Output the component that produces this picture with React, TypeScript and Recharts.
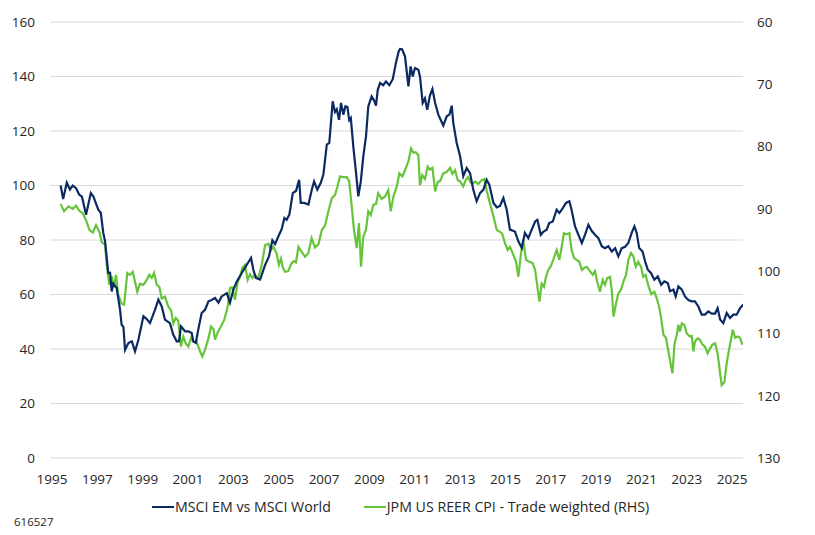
import { CartesianGrid, Line, LineChart, XAxis, YAxis } from "recharts";

// MSCI EM vs MSCI World (LHS)
const emYears = [
  1995.38, 1995.49, 1995.65, 1995.79, 1995.91, 1996.06, 1996.2, 1996.32, 1996.5, 1996.71,
  1996.82, 1997.04, 1997.15, 1997.26, 1997.34, 1997.48, 1997.56, 1997.63, 1997.7, 1997.85,
  1998.0, 1998.07, 1998.15, 1998.22, 1998.37, 1998.52, 1998.66, 1998.81, 1999.03, 1999.18,
  1999.32, 1999.54, 1999.69, 1999.84, 1999.98, 2000.2, 2000.35, 2000.5, 2000.6, 2000.69,
  2000.87, 2001.01, 2001.16, 2001.23, 2001.34, 2001.45, 2001.6, 2001.75, 2001.9, 2002.04,
  2002.19, 2002.34, 2002.48, 2002.71, 2002.85, 2003.0, 2003.15, 2003.37, 2003.59, 2003.78,
  2003.88, 2003.99, 2004.18, 2004.4, 2004.57, 2004.72, 2004.84, 2004.98, 2005.13, 2005.25,
  2005.35, 2005.47, 2005.62, 2005.76, 2005.9, 2005.97, 2006.12, 2006.31, 2006.46, 2006.56,
  2006.7, 2006.85, 2006.97, 2007.12, 2007.23, 2007.38, 2007.48, 2007.56, 2007.66, 2007.75,
  2007.85, 2007.94, 2008.03, 2008.11, 2008.18, 2008.29, 2008.41, 2008.51, 2008.62, 2008.73,
  2008.85, 2008.95, 2009.1, 2009.22, 2009.29, 2009.37, 2009.47, 2009.61, 2009.73, 2009.88,
  2010.03, 2010.17, 2010.29, 2010.35, 2010.44, 2010.57, 2010.72, 2010.82, 2010.91, 2011.01,
  2011.16, 2011.23, 2011.35, 2011.45, 2011.55, 2011.67, 2011.78, 2011.9, 2012.04, 2012.26,
  2012.41, 2012.53, 2012.63, 2012.7, 2012.85, 2013.0, 2013.14, 2013.29, 2013.44, 2013.58,
  2013.73, 2013.88, 2014.03, 2014.17, 2014.29, 2014.47, 2014.62, 2014.76, 2014.91, 2015.06,
  2015.2, 2015.42, 2015.57, 2015.72, 2015.86, 2016.01, 2016.16, 2016.31, 2016.41, 2016.56,
  2016.67, 2016.82, 2016.93, 2017.09, 2017.26, 2017.38, 2017.53, 2017.67, 2017.82, 2017.92,
  2018.07, 2018.22, 2018.37, 2018.51, 2018.66, 2018.81, 2018.95, 2019.1, 2019.25, 2019.39,
  2019.54, 2019.69, 2019.84, 2019.98, 2020.13, 2020.28, 2020.42, 2020.57, 2020.69, 2020.79,
  2020.9, 2021.05, 2021.16, 2021.28, 2021.42, 2021.57, 2021.72, 2021.87, 2022.01, 2022.16,
  2022.26, 2022.41, 2022.51, 2022.63, 2022.78, 2022.92, 2023.07, 2023.22, 2023.36, 2023.51,
  2023.66, 2023.8, 2023.95, 2024.1, 2024.25, 2024.36, 2024.47, 2024.61, 2024.76, 2024.91,
  2025.05, 2025.2, 2025.35, 2025.49,
];
const emValues = [
  100, 95, 101, 98.5, 100, 99, 96.6, 95.9, 89.3, 97.2,
  96, 91.1, 90, 82.6, 79.5, 67.9, 68, 61.1, 64, 62.4,
  54.4, 48.9, 48, 39.7, 42.2, 42.8, 39.1, 43.4, 52, 51,
  49.5, 54.4, 58.1, 55.6, 50.8, 49.5, 45.2, 42.8, 42.8, 48.3,
  46.5, 46.5, 45.9, 42.8, 42.2, 47.1, 53.2, 54.4, 57.5, 58,
  58.7, 57, 59.3, 60.5, 57, 61.8, 64.8, 67.9, 70.9, 73.4,
  69.1, 66.1, 65.5, 70.9, 74, 79.9, 78.5, 81.3, 84, 88.1,
  87.4, 89.4, 97.2, 98, 102.1, 93.6, 93.6, 93, 98.5, 101.5,
  98.5, 100.9, 104, 115, 115.6, 130.9, 127, 128, 124.1, 130.3,
  126, 129.1, 128.8, 124, 124.8, 114.3, 104.6, 96, 101.5, 110.7,
  118, 129, 132.7, 131, 129.3, 135.2, 137.6, 136.8, 138.2, 136.8,
  139, 145, 149.2, 150.1, 150, 147.4, 136.4, 143.7, 140, 143.1,
  142.5, 140, 130.3, 132, 127.8, 133, 135.4, 130.3, 126, 122,
  125.4, 126, 129.3, 123, 115.6, 110.7, 103.4, 106.4, 104.5, 98.5,
  94.2, 97.2, 98.5, 102.1, 100.3, 93.6, 92, 92.5, 95.4, 91,
  83.8, 83.1, 79.5, 77.1, 82.6, 80.7, 83.8, 86.8, 87.4, 81.9,
  83, 83.8, 86.2, 86.8, 91.1, 89.9, 91.7, 93.6, 94.2, 91,
  85, 81.9, 78.9, 81.9, 85.6, 83.3, 81.9, 80.7, 77.7, 77,
  77.7, 75.8, 77, 74, 77, 77.5, 78.9, 82.6, 85, 82.6,
  77.1, 75.8, 72.2, 69.1, 67.9, 65.4, 66.6, 63.6, 64.8, 64.2,
  61.2, 61.8, 59.3, 63, 61.8, 59.3, 58, 57.5, 57.5, 55.6,
  52.6, 52.6, 53.8, 53, 53, 55, 50.8, 49.5, 53.2, 51.4,
  52.6, 52.6, 55, 56.3,
];

// JPM US REER CPI - Trade weighted (RHS, inverted)
const reerYears = [
  1995.38, 1995.53, 1995.72, 1995.91, 1996.06, 1996.2, 1996.35, 1996.5, 1996.65, 1996.8,
  1996.94, 1997.09, 1997.19, 1997.34, 1997.41, 1997.53, 1997.63, 1997.73, 1997.82, 1997.92,
  1998.07, 1998.18, 1998.32, 1998.44, 1998.56, 1998.66, 1998.76, 1998.88, 1999.03, 1999.18,
  1999.29, 1999.4, 1999.5, 1999.62, 1999.73, 1999.84, 1999.98, 2000.13, 2000.25, 2000.35,
  2000.46, 2000.57, 2000.69, 2000.79, 2000.9, 2001.01, 2001.13, 2001.23, 2001.38, 2001.53,
  2001.63, 2001.75, 2001.9, 2002.01, 2002.12, 2002.19, 2002.31, 2002.45, 2002.6, 2002.75,
  2002.85, 2002.95, 2003.07, 2003.19, 2003.29, 2003.39, 2003.51, 2003.63, 2003.73, 2003.84,
  2003.95, 2004.1, 2004.25, 2004.4, 2004.54, 2004.66, 2004.76, 2004.91, 2005.01, 2005.1,
  2005.19, 2005.28, 2005.42, 2005.57, 2005.67, 2005.76, 2005.87, 2006.01, 2006.16, 2006.31,
  2006.45, 2006.6, 2006.75, 2006.9, 2007.04, 2007.19, 2007.34, 2007.48, 2007.59, 2007.7,
  2007.85, 2008.0, 2008.11, 2008.22, 2008.32, 2008.44, 2008.54, 2008.63, 2008.73, 2008.85,
  2008.95, 2009.06, 2009.17, 2009.29, 2009.39, 2009.54, 2009.69, 2009.83, 2009.94, 2010.06,
  2010.21, 2010.32, 2010.45, 2010.57, 2010.72, 2010.84, 2010.94, 2011.04, 2011.16, 2011.23,
  2011.33, 2011.45, 2011.57, 2011.67, 2011.78, 2011.9, 2012.01, 2012.12, 2012.26, 2012.41,
  2012.56, 2012.66, 2012.78, 2012.9, 2013.0, 2013.14, 2013.25, 2013.34, 2013.44, 2013.54,
  2013.66, 2013.8, 2013.95, 2014.07, 2014.17, 2014.28, 2014.4, 2014.51, 2014.62, 2014.76,
  2014.86, 2014.98, 2015.1, 2015.2, 2015.35, 2015.47, 2015.57, 2015.69, 2015.78, 2015.91,
  2016.05, 2016.2, 2016.31, 2016.41, 2016.5, 2016.6, 2016.7, 2016.79, 2016.89, 2017.0,
  2017.11, 2017.26, 2017.38, 2017.48, 2017.58, 2017.7, 2017.82, 2017.92, 2018.03, 2018.14,
  2018.26, 2018.37, 2018.47, 2018.59, 2018.73, 2018.85, 2018.95, 2019.05, 2019.17, 2019.29,
  2019.39, 2019.49, 2019.61, 2019.69, 2019.77, 2019.88, 2019.98, 2020.1, 2020.2, 2020.32,
  2020.42, 2020.54, 2020.64, 2020.75, 2020.86, 2020.98, 2021.08, 2021.18, 2021.32, 2021.43,
  2021.57, 2021.68, 2021.78, 2021.87, 2021.97, 2022.08, 2022.19, 2022.31, 2022.37, 2022.46,
  2022.56, 2022.63, 2022.7, 2022.78, 2022.89, 2023.0, 2023.14, 2023.22, 2023.29, 2023.36,
  2023.48, 2023.58, 2023.69, 2023.8, 2023.92, 2024.03, 2024.13, 2024.25, 2024.36, 2024.47,
  2024.54, 2024.66, 2024.76, 2024.86, 2024.95, 2025.03, 2025.13, 2025.25, 2025.35, 2025.45,
];
const reerValues = [
  89.2, 90.4, 89.6, 90, 89.5, 90.3, 90.7, 91.8, 93.4, 93.8,
  92.6, 93.7, 95.3, 95.8, 99, 102.2, 100.8, 102.6, 100.6, 103.8,
  105.2, 105.4, 100.3, 100.6, 100.1, 101.7, 103.3, 102, 102.2, 101.4,
  100.6, 101.1, 100.3, 102.2, 102.5, 104.4, 104.1, 105.7, 106.3, 108.4,
  107.5, 108, 112.1, 110.5, 111.6, 112.1, 110.8, 111.3, 111.3, 112.9,
  113.7, 112.6, 110.8, 108.9, 109.3, 111, 109.8, 108.9, 107.8, 105.7,
  102.7, 102.6, 104.6, 101.7, 101, 99.5, 99, 101.4, 100.5, 101.1,
  100.6, 101.1, 99, 95.8, 95.6, 96.6, 96.1, 97.2, 99, 98,
  99.5, 100.1, 100, 98.7, 98.4, 98.6, 96.1, 96.9, 97.7, 97.1,
  94.7, 96.2, 95.7, 93.4, 92.7, 90.4, 88.3, 87.8, 86.4, 84.8,
  84.9, 84.9, 85.6, 89.6, 93.4, 96.3, 92.3, 99.3, 94.5, 93.3,
  90.4, 91, 89.4, 89.2, 87.5, 88.4, 88, 87, 90.4, 88,
  86.4, 84.3, 84.8, 83.8, 82.4, 80.3, 81, 80.9, 81.4, 86.2,
  84.6, 85.2, 83.2, 83.7, 83.4, 87.2, 85.7, 85.5, 84.3, 84.1,
  83.4, 84.4, 83.8, 85.4, 85.6, 86.4, 85.4, 84.9, 85.6, 86,
  85.6, 86, 85.4, 85.2, 87, 88.6, 90.2, 91.8, 93.4, 93.7,
  94, 95.5, 96.6, 96.1, 97.4, 98.5, 100.9, 97.1, 95, 98.2,
  98.5, 98.7, 99.8, 102.5, 104.9, 102, 102.5, 100.9, 99.8, 99.2,
  98.2, 96.6, 98.2, 96.1, 93.9, 94.1, 93.9, 96.6, 97.9, 98.2,
  98.5, 99.8, 99.5, 99.3, 100, 100.6, 100, 101.7, 103.3, 101.4,
  102.2, 101.1, 100.9, 103, 107.3, 105.2, 103.6, 103, 101.7, 100.6,
  98.2, 97.1, 97.6, 99.3, 98.5, 99.3, 100.9, 100.6, 102.5, 103.7,
  103.3, 104.4, 105.7, 107.6, 110.2, 110.7, 112.9, 115.3, 116.4, 111.6,
  110.2, 108.6, 109.7, 108.4, 108.6, 110, 110.5, 110.4, 112.9, 111.3,
  110.8, 111, 111.8, 112.1, 113.2, 112.4, 111.8, 111.6, 113.2, 116.4,
  118.3, 117.8, 114.8, 112.7, 111, 109.4, 110.7, 110.5, 110.7, 111.8,
];

const yearTicks = [1995, 1997, 1999, 2001, 2003, 2005, 2007, 2009, 2011, 2013, 2015, 2017, 2019, 2021, 2023, 2025];
const leftTicks = [0, 20, 40, 60, 80, 100, 120, 140, 160];
const rightTicks = [60, 70, 80, 90, 100, 110, 120, 130];

const NAVY = "#0b2a62";
const GREEN = "#66c43a";
const TEXT = "#262626";
const FONT = '"Open Sans", "Noto Sans", sans-serif';

const emData = emYears.map((t, i) => ({ t, em: emValues[i] }));
const reerData = reerYears.map((t, i) => ({ t, reer: reerValues[i] }));

const tickStyle = { fill: TEXT, fontSize: 13.5, fontFamily: FONT };

export default function App() {
  return (
    <div style={{ position: "absolute", left: 0, top: 0, width: 815, height: 535, background: "#fff", fontFamily: FONT }}>
      <LineChart width={815} height={535} margin={{ top: 22, right: 0, bottom: 47, left: 0 }}>
        <CartesianGrid yAxisId="left" vertical={false} stroke="#d9d9d9" strokeWidth={1} />
        <XAxis
          dataKey="t"
          type="number"
          domain={[1994.91, 2025.48]}
          allowDataOverflow
          ticks={yearTicks}
          tick={tickStyle}
          tickLine={false}
          axisLine={false}
          tickMargin={10}
          height={30}
        />
        <YAxis
          yAxisId="left"
          domain={[0, 160]}
          ticks={leftTicks}
          tick={tickStyle}
          tickLine={false}
          axisLine={false}
          tickMargin={9}
          width={50}
        />
        <YAxis
          yAxisId="right"
          orientation="right"
          reversed
          domain={[60, 130]}
          ticks={rightTicks}
          tick={{ ...tickStyle, textAnchor: "start" }}
          tickLine={false}
          axisLine={false}
          tickMargin={8}
          width={72}
        />
        <Line
          yAxisId="right"
          data={reerData}
          dataKey="reer"
          type="linear"
          stroke={GREEN}
          strokeWidth={2.2}
          dot={false}
          isAnimationActive={false}
        />
        <Line
          yAxisId="left"
          data={emData}
          dataKey="em"
          type="linear"
          stroke={NAVY}
          strokeWidth={2.2}
          dot={false}
          isAnimationActive={false}
        />
      </LineChart>
      <div style={{ position: "absolute", top: 497, left: 152, display: "flex", alignItems: "center", fontSize: 14.2, color: TEXT, whiteSpace: "nowrap" }}>
        <span style={{ display: "inline-block", width: 22, height: 2, background: NAVY, marginRight: 1 }} />
        <span>MSCI EM vs MSCI World</span>
        <span style={{ display: "inline-block", width: 22, height: 2, background: GREEN, marginLeft: 33, marginRight: 1 }} />
        <span>JPM US REER CPI - Trade weighted (RHS)</span>
      </div>
      <div style={{ position: "absolute", top: 514, left: 14, fontSize: 11.5, color: TEXT }}>616527</div>
    </div>
  );
}
